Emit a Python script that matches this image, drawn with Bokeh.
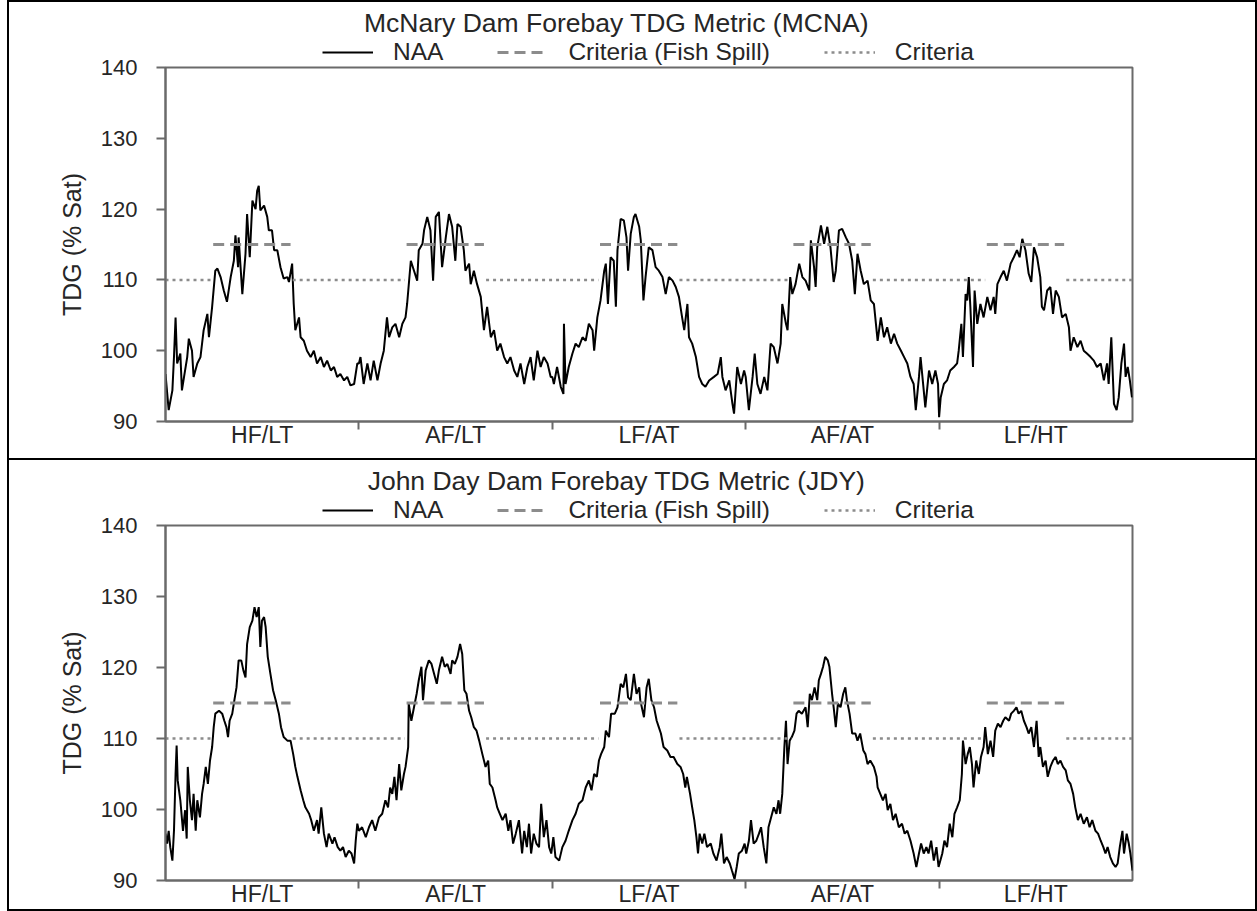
from bokeh.plotting import figure
from bokeh.models import Range1d, FixedTicker, Legend, LegendItem, Label
from bokeh.layouts import column
from bokeh.embed import file_html
from bokeh.resources import INLINE

# ---------------- data ----------------
SCENARIOS = ["HF/LT", "AF/LT", "LF/AT", "AF/AT", "LF/HT"]
DAYS_IN_YEAR = 365
SPILL_START_DAY = 90      # fish-spill criterion (115 %) applies
SPILL_END_DAY = 236
CRIT_END_DAY = 87         # general criterion (110 %) before / after spill season
CRIT_START_DAY = 240
CRIT_FISH_SPILL = 115
CRIT_GENERAL = 110

# McNary (MCNA) NAA, day of year and TDG (% sat) per scenario
MCNA_HFLT_DAY = [0,6,13,16,19,22,28,31,35,41,44,50,53,60,66,72,79,82,88,94,98,104,110,116,123,129,132,137,138,145,151,154,159,164,170,173,176,179,186,192,195,201,205,211,217,223,230,233,239,242,245,252,255,261,267,274,280,286,293,299,305,312,318,324,330,337,343,349,356,362]
MCNA_HFLT_TDG = [96.7,91.6,94.4,99.1,104.7,98.2,99.6,94.4,96.3,99.1,101.7,100.0,96.3,98.2,99.1,102.9,105.2,101.9,106.2,111.3,111.6,110.4,108.5,106.9,110.4,112.7,116.3,111.8,116.0,108.0,113.7,119.3,113.2,121.2,120.0,122.6,123.3,119.8,120.5,118.9,117.0,117.0,114.2,114.2,111.8,110.2,110.4,109.7,112.3,106.6,102.9,104.7,101.9,101.4,100.0,99.1,100.0,98.2,99.1,97.7,98.6,97.2,97.7,96.3,96.7,95.8,96.3,95.1,95.3,98.2]

MCNA_AFLT_DAY = [0,3,9,16,22,28,35,41,47,53,57,63,69,76,82,88,91,98,104,110,113,120,123,129,135,140,145,151,157,164,170,176,182,186,192,198,201,208,211,217,223,230,236,242,249,255,261,267,274,280,286,293,299,305,312,318,324,330,337,343,349,356,362]
MCNA_AFLT_TDG = [98.2,99.1,95.3,98.2,95.8,98.6,95.8,98.2,100.0,104.7,101.9,103.3,103.8,101.9,103.8,104.7,106.6,112.7,111.3,109.9,114.2,115.1,117.0,118.9,117.0,109.9,118.9,119.6,111.8,116.0,119.3,117.5,112.7,117.9,117.5,114.2,111.3,112.3,109.4,111.3,109.4,107.6,102.9,106.2,101.9,102.9,100.0,101.0,99.1,98.2,99.1,97.2,96.3,98.2,95.3,97.7,99.1,95.8,100.0,97.7,99.1,98.2,96.3]

MCNA_LFAT_DAY = [0,3,9,16,21,22,25,31,38,44,50,57,63,69,76,79,85,91,98,101,105,110,116,120,123,129,135,140,143,148,154,157,164,167,172,176,182,189,195,201,208,214,220,227,233,239,245,249,255,258,264,271,277,283,289,296,305,312,318,321,327,334,340,343,349,356,362]
MCNA_LFAT_TDG = [96.3,95.3,97.7,94.9,93.9,103.8,95.3,97.7,99.6,101.0,100.5,101.9,101.4,103.8,102.9,100.0,104.7,107.1,111.3,112.3,106.6,113.2,112.7,106.2,114.2,118.6,118.4,116.0,111.3,116.5,118.9,119.3,117.5,115.6,107.1,110.4,114.6,114.2,111.8,111.3,110.4,108.0,110.4,109.9,109.0,107.6,104.7,102.9,106.6,101.9,101.0,99.1,96.3,95.3,94.9,95.8,96.3,96.7,99.1,96.3,94.4,95.8,92.5,91.1,97.7,95.3,97.2]

MCNA_AFAT_DAY = [0,6,13,17,22,28,35,41,47,53,60,66,69,76,79,84,88,94,101,107,113,120,123,129,132,135,142,148,154,160,166,170,176,182,189,195,201,206,211,217,223,230,236,242,249,255,261,267,274,280,286,293,299,305,311,317,321,327,330,336,339,346,352,358,363,365]
MCNA_AFAT_TDG = [96.3,91.6,96.3,99.6,95.3,93.9,96.3,94.4,101.0,100.5,98.2,101.0,106.6,103.8,102.9,110.4,108.0,109.4,112.3,110.4,109.9,108.5,115.6,111.8,109.0,114.6,117.7,115.1,117.5,114.6,109.7,111.3,117.0,117.2,116.0,115.1,112.7,108.0,113.7,111.3,109.4,109.9,107.1,106.6,101.4,104.7,101.9,103.3,101.0,102.4,101.0,100.0,99.1,98.2,96.3,95.3,91.6,96.3,99.1,94.4,92.0,97.2,95.3,97.2,95.3,90.6]

MCNA_LFHT_DAY = [3,9,15,21,28,34,37,42,45,50,53,56,59,64,67,72,78,84,91,97,103,106,110,116,122,128,135,141,147,152,157,163,169,174,179,185,191,194,198,204,210,215,220,226,232,239,245,248,254,261,267,273,279,286,292,298,305,311,317,320,325,330,335,339,344,349,352,356,360,364]
MCNA_LFHT_TDG = [93.4,95.3,95.8,97.2,97.7,98.2,100.0,103.8,99.1,108.0,107.1,110.4,106.2,97.7,108.5,103.8,106.6,104.7,107.6,105.7,107.6,105.2,109.4,110.4,111.3,109.9,112.3,113.2,114.2,113.2,115.8,114.2,110.9,109.7,114.6,113.2,110.4,106.2,105.7,108.5,109.0,105.2,108.5,107.6,104.7,105.2,103.3,100.0,101.9,100.5,101.4,100.0,99.6,99.1,98.6,97.7,98.2,95.8,98.2,95.3,101.9,92.5,91.6,93.4,98.2,101.0,96.3,97.7,95.8,93.4]

# John Day (JDY) NAA
JDY_HFLT_DAY = [0,3,6,9,13,16,19,21,23,28,33,37,40,42,46,50,53,57,60,65,69,72,76,80,84,88,91,94,101,107,111,115,118,121,126,130,134,138,143,147,151,154,159,164,168,172,176,179,182,186,189,193,198,203,208,214,218,223,230,236,241,245,249,255,260,264,271,275,280,286,289,294,299,304,308,315,319,325,330,335,340,346,351,356,359,362]
JDY_HFLT_TDG = [96.6,95.2,97.0,94.7,92.8,97.0,105.0,109.0,104.1,101.3,97.0,99.9,95.9,106.0,101.3,98.5,102.2,97.0,101.3,98.9,102.2,103.6,106.0,103.6,106.9,108.8,111.6,113.5,113.9,113.5,112.5,111.6,110.2,112.5,113.5,115.4,117.2,121.0,121.0,119.6,118.6,123.3,125.7,126.6,128.5,127.1,128.5,122.9,126.6,127.1,125.7,121.5,119.1,116.8,115.4,113.5,111.6,110.2,109.7,109.7,107.8,106.0,104.6,102.7,101.3,100.3,99.4,98.5,97.0,98.5,96.6,100.3,96.6,94.7,96.6,95.2,96.1,94.7,94.2,94.7,93.3,94.2,93.8,92.4,95.6,98.0]

JDY_AFLT_DAY = [0,6,13,19,25,31,38,44,50,55,59,63,67,71,76,80,85,88,93,94,99,104,109,113,118,121,126,132,137,142,147,151,157,162,167,173,176,181,186,191,195,199,203,208,212,217,222,227,233,239,244,247,252,258,261,266,271,277,282,286,291,296,302,308,312,317,321,325,330,335,340,344,349,354,359,363]
JDY_AFLT_TDG = [97.0,97.5,96.1,97.5,98.5,97.0,98.9,99.4,101.3,100.3,103.1,102.2,104.6,101.3,106.4,102.7,105.0,106.0,108.8,114.9,112.5,114.4,116.3,118.2,120.1,115.4,119.6,121.0,120.5,119.1,117.7,119.6,121.5,120.1,120.5,119.1,121.0,120.5,121.5,123.3,121.9,116.8,116.3,113.9,113.0,111.6,111.1,109.7,107.8,106.0,106.9,103.6,103.1,101.3,100.3,99.4,98.5,99.4,97.0,98.5,95.2,96.6,98.5,93.8,97.0,94.7,98.0,93.8,96.6,95.2,94.7,100.8,96.1,98.5,94.7,93.8]

JDY_LFAT_DAY = [2,6,13,19,25,31,38,44,50,57,63,69,74,79,84,88,92,98,101,107,111,118,123,129,134,139,143,148,154,159,164,166,173,178,182,187,192,197,201,205,210,217,223,229,236,242,247,251,254,260,264,268,272,275,278,283,287,292,299,304,310,316,319,324,329,335,339,344,348,352,358,363]
JDY_LFAT_TDG = [96.1,93.3,92.8,94.7,95.6,97.0,98.5,99.4,100.8,101.3,103.1,104.1,102.7,105.0,104.6,106.9,107.8,108.8,111.1,110.2,113.5,113.5,114.4,117.7,117.2,119.1,115.8,115.4,119.1,116.3,117.2,115.4,113.0,117.2,118.4,115.4,114.4,112.5,111.6,110.7,108.8,108.3,107.4,107.4,106.4,106.0,105.0,103.1,104.6,102.2,100.3,98.5,96.1,93.8,96.6,95.2,96.6,94.7,95.2,93.8,92.8,94.7,96.6,92.4,93.3,92.4,91.4,90.2,91.9,93.8,94.2,95.2]

JDY_AFAT_DAY = [1,6,10,15,20,25,29,34,39,43,48,53,58,62,65,69,73,76,79,83,87,92,96,100,106,113,117,121,125,130,135,138,142,146,150,155,158,163,166,170,174,179,184,188,191,196,201,207,211,216,222,226,230,235,242,247,249,254,259,264,268,273,278,283,289,295,300,305,311,317,322,327,331,336,341,345,350,355,360,364]
JDY_AFAT_TDG = [93.8,95.6,98.5,95.2,95.6,96.6,97.5,94.7,92.4,97.5,98.9,100.3,99.4,101.3,99.4,102.2,108.8,112.5,106.4,109.7,110.2,111.1,113.5,113.9,113.5,114.4,111.6,116.3,115.4,117.2,115.4,118.2,119.1,120.1,121.5,121.0,120.1,116.3,114.4,111.6,114.9,114.4,116.3,117.2,115.4,113.5,110.7,110.7,109.7,110.7,108.3,107.8,106.4,106.9,106.0,104.6,103.1,102.2,101.3,102.2,99.9,100.8,98.5,99.4,97.5,98.0,96.6,97.0,95.6,93.8,91.9,93.8,95.2,93.8,94.7,93.8,95.6,92.8,94.7,91.9]

JDY_LFHT_DAY = [6,10,15,20,25,29,34,39,43,45,50,54,58,62,65,70,75,79,84,87,92,97,102,106,111,116,121,125,132,136,141,146,150,155,160,165,169,174,179,184,188,191,196,201,205,210,215,220,224,229,234,239,243,248,253,257,262,267,273,279,284,289,295,300,305,310,314,318,323,328,333,337,341,346,349,354,358,361,365]
JDY_LFHT_TDG = [93.8,95.6,94.7,98.0,96.1,99.4,100.3,101.3,105.0,109.7,106.4,107.8,108.8,106.4,103.1,106.9,105.0,107.4,108.8,111.6,107.8,109.7,107.4,111.1,112.1,111.6,112.5,113.0,112.5,113.5,113.9,114.4,113.5,113.9,112.5,111.6,110.7,111.6,108.8,112.5,107.4,108.8,106.0,106.9,104.6,106.0,106.9,107.4,106.4,106.9,106.0,105.5,104.1,103.6,102.2,100.3,98.5,99.4,98.0,98.9,97.5,98.5,97.0,96.6,95.6,94.7,93.8,94.7,93.3,92.4,91.9,92.4,94.7,97.0,93.8,96.6,95.2,93.8,91.4]

MCNA_DAYS = [MCNA_HFLT_DAY, MCNA_AFLT_DAY, MCNA_LFAT_DAY, MCNA_AFAT_DAY, MCNA_LFHT_DAY]
MCNA_TDGS = [MCNA_HFLT_TDG, MCNA_AFLT_TDG, MCNA_LFAT_TDG, MCNA_AFAT_TDG, MCNA_LFHT_TDG]
JDY_DAYS = [JDY_HFLT_DAY, JDY_AFLT_DAY, JDY_LFAT_DAY, JDY_AFAT_DAY, JDY_LFHT_DAY]
JDY_TDGS = [JDY_HFLT_TDG, JDY_AFLT_TDG, JDY_LFAT_TDG, JDY_AFAT_TDG, JDY_LFHT_TDG]

LEGEND_LABELS = ["NAA", "Criteria (Fish Spill)", "Criteria"]

# ---------------- styling ----------------
FONT = "Liberation Sans"
TEXT = "#262626"
AXIS_GRAY = "#6a6a6a"
CRIT_GRAY = "#8c8c8c"
FIG_W = 1250
HEAD_H = 66
OVERLAP = 14
FRAME_LEFT = 158          # frame left edge inside each figure (header frames are aligned to it)
NAA_STYLE = dict(line_color="black", line_width=2.0)
FISH_STYLE = dict(line_color=CRIT_GRAY, line_width=3, line_dash="11 6")
GEN_STYLE = dict(line_color=CRIT_GRAY, line_width=2.5, line_dash="3 4")
BORDER = {"outline": "2px solid black", "outline-offset": "-2px"}
TITLE_CENTER_X = 609      # px from the panel's left edge
LEGEND_LEFT_X = 315


def series(day_lists, tdg_lists):
    xs, ys = [], []
    for i, (d, v) in enumerate(zip(day_lists, tdg_lists)):
        if len(d) != len(v):
            raise ValueError(f"length mismatch in scenario {SCENARIOS[i]}: {len(d)} vs {len(v)}")
        xs += [i + dd / DAYS_IN_YEAR for dd in d]
        ys += list(v)
    return xs, ys


def criteria_lines():
    n = len(SCENARIOS)
    fish_xs = [[i + SPILL_START_DAY / DAYS_IN_YEAR, i + SPILL_END_DAY / DAYS_IN_YEAR] for i in range(n)]
    fish_ys = [[CRIT_FISH_SPILL, CRIT_FISH_SPILL] for _ in range(n)]
    gen_xs = [[0, CRIT_END_DAY / DAYS_IN_YEAR]]
    for i in range(n - 1):
        gen_xs.append([i + CRIT_START_DAY / DAYS_IN_YEAR, i + 1 + CRIT_END_DAY / DAYS_IN_YEAR])
    gen_xs.append([n - 1 + CRIT_START_DAY / DAYS_IN_YEAR, n])
    gen_ys = [[CRIT_GENERAL, CRIT_GENERAL] for _ in gen_xs]
    return fish_xs, fish_ys, gen_xs, gen_ys


def make_header(title):
    h = figure(width=FIG_W, height=HEAD_H, x_range=Range1d(0, 1), y_range=Range1d(0, 1),
               output_backend="svg", toolbar_location=None, title=None,
               x_axis_type=None, y_axis_type=None, min_border=0,
               outline_line_color=None, background_fill_alpha=0, border_fill_alpha=0)
    # legend-only renderers: their few points lie outside the header's ranges, so nothing is drawn
    r1 = h.line(x=[-3, -2], y=[-3, -3], **NAA_STYLE)
    r2 = h.multi_line(xs=[[-3, -2]], ys=[[-3, -3]], **FISH_STYLE)
    r3 = h.multi_line(xs=[[-3, -2]], ys=[[-3, -3]], **GEN_STYLE)
    legend = Legend(items=[LegendItem(label=lab, renderers=[r]) for lab, r in zip(LEGEND_LABELS, [r1, r2, r3])],
                    orientation="horizontal", location=(LEGEND_LEFT_X - FRAME_LEFT, 0),
                    glyph_width=51, glyph_height=28, label_height=28, label_standoff=20, spacing=54,
                    padding=0, margin=0, border_line_color=None, background_fill_alpha=0,
                    label_text_font=FONT, label_text_font_size="24.5px", label_text_color=TEXT)
    h.add_layout(legend)
    h.add_layout(Label(x=TITLE_CENTER_X - FRAME_LEFT, y=HEAD_H - 22, x_units="screen", y_units="screen",
                       text=title, text_align="center", text_baseline="middle",
                       text_font=FONT, text_font_size="26.5px", text_color=TEXT))
    return h


def make_plot(days, tdgs, frame_h, b_bottom):
    n = len(SCENARIOS)
    b_top = 15
    p = figure(width=FIG_W, height=b_top + frame_h + b_bottom, x_range=Range1d(0, n), y_range=Range1d(90, 140),
               output_backend="svg", toolbar_location=None, title=None,
               min_border_left=FRAME_LEFT, min_border_right=125,
               min_border_top=b_top, min_border_bottom=b_bottom,
               background_fill_color="white", border_fill_alpha=0)
    p.xgrid.visible = False
    p.ygrid.visible = False
    p.outline_line_color = AXIS_GRAY
    p.outline_line_width = 2

    xs, ys = series(days, tdgs)
    p.line(xs, ys, **NAA_STYLE)
    fx, fy, gx, gy = criteria_lines()
    p.multi_line(fx, fy, **FISH_STYLE)
    p.multi_line(gx, gy, **GEN_STYLE)

    yax = p.yaxis[0]
    yax.ticker = FixedTicker(ticks=[90, 100, 110, 120, 130, 140])
    yax.axis_label = "TDG (% Sat)"
    yax.axis_label_text_font = FONT
    yax.axis_label_text_font_size = "25px"
    yax.axis_label_text_font_style = "normal"
    yax.axis_label_text_color = TEXT
    yax.axis_label_standoff = 12
    yax.major_label_text_font = FONT
    yax.major_label_text_font_size = "22px"
    yax.major_label_text_color = TEXT
    yax.major_label_standoff = 19
    yax.major_tick_out = 9
    yax.major_tick_in = 0
    yax.minor_tick_out = 0
    yax.minor_tick_in = 0
    yax.axis_line_color = AXIS_GRAY
    yax.axis_line_width = 2
    yax.major_tick_line_color = AXIS_GRAY
    yax.major_tick_line_width = 2

    xax = p.xaxis[0]
    centers = [i + 0.5 for i in range(n)]
    xax.ticker = FixedTicker(ticks=centers, minor_ticks=list(range(1, n)))
    xax.major_label_overrides = {c: s for c, s in zip(centers, SCENARIOS)}
    xax.major_label_text_font = FONT
    xax.major_label_text_font_size = "23px"
    xax.major_label_text_color = TEXT
    xax.major_label_standoff = -8
    xax.major_tick_out = 0
    xax.major_tick_in = 0
    xax.major_tick_line_color = None
    xax.minor_tick_out = 8
    xax.minor_tick_in = 0
    xax.minor_tick_line_color = AXIS_GRAY
    xax.minor_tick_line_width = 2
    xax.axis_line_color = AXIS_GRAY
    xax.axis_line_width = 2
    p.styles = {"margin-top": f"-{OVERLAP}px"}
    return p


h1 = make_header("McNary Dam Forebay TDG Metric (MCNA)")
p1 = make_plot(MCNA_DAYS, MCNA_TDGS, 354, 39)
h2 = make_header("John Day Dam Forebay TDG Metric (JDY)")
p2 = make_plot(JDY_DAYS, JDY_TDGS, 355, 31)

panel1 = column(h1, p1, spacing=0, styles=dict(BORDER))
panel2 = column(h2, p2, spacing=0, styles=dict(BORDER, **{"margin-top": "-2px"}))
layout = column(panel1, panel2, spacing=0, styles={"margin-left": "7px"})

with open("out.html", "w") as f:
    f.write(file_html(layout, INLINE))
